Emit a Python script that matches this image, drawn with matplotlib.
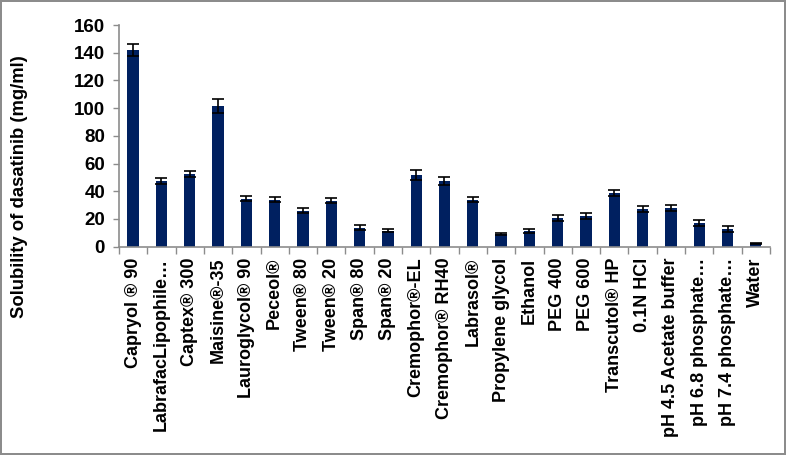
import numpy as np
import matplotlib.pyplot as plt

# Valori
categories = ["Capryol ® 90", "LabrafacLipophile…", "Captex® 300", "Maisine®-35",
              "Lauroglycol® 90", "Peceol®", "Tween® 80", "Tween® 20", "Span® 80",
              "Span® 20", "Cremophor®-EL", "Cremophor® RH40", "Labrasol®",
              "Propylene glycol", "Ethanol", "PEG 400", "PEG 600", "Transcutol® HP",
              "0.1N HCl", "pH 4.5 Acetate buffer", "pH 6.8 phosphate…",
              "pH 7.4 phosphate…", "Water"]
solubility = [142, 47.6, 52.6, 101.6, 34.6, 33.9, 26, 33.2, 13.7, 11.5, 51.9, 47.6,
              33.8, 8.9, 11.4, 20.8, 22.2, 38.9, 27.3, 28, 17.1, 12.8, 2.4]
errors = [4.4, 2.2, 2.3, 4.8, 1.7, 1.7, 1.7, 1.8, 1.9, 1.2, 3.6, 3, 1.8, 0.8, 1.6,
          2.2, 2.2, 2.3, 2.2, 2.3, 2.5, 2.3, 0.5]

plt.rcParams['font.family'] = ['Liberation Sans', 'DejaVu Sans']
plt.rcParams['font.weight'] = 'bold'

fig = plt.figure(figsize=(7.86, 4.55), dpi=100, linewidth=1.5, edgecolor='#8c8c8c')
ax = fig.add_axes([0.1514, 0.4578, 0.8282, 0.4872])

x = np.arange(len(categories))
ax.bar(x, solubility, width=0.4, color='#002060', zorder=2)
ax.errorbar(x, solubility, yerr=errors, fmt='none', ecolor='black',
            elinewidth=1.2, capsize=4.5, capthick=1.2, zorder=3)

ax.set_xlim(-0.5, len(categories) - 0.5)
ax.set_ylim(0, 160)
ax.set_yticks(np.arange(0, 161, 20))
ax.tick_params(axis='y', labelsize=13.5, length=4, color='#8c8c8c', width=1, pad=6)

ax.set_xticks(x)
ax.set_xticklabels(categories, rotation=90, fontsize=13, fontweight='bold')
ax.set_xticks(np.arange(-0.5, len(categories)), minor=True)
ax.tick_params(axis='x', which='major', length=0, pad=8)
ax.tick_params(axis='x', which='minor', length=5, color='#8c8c8c', width=1)

for s in ['top', 'right']:
    ax.spines[s].set_visible(False)
for s in ['left', 'bottom']:
    ax.spines[s].set_color('#8c8c8c')
    ax.spines[s].set_linewidth(1.2)

fig.text(0.025, 0.589, "Solubility of dasatinib (mg/ml)", rotation=90,
         fontsize=13.3, fontweight='bold', ha='center', va='center')

fig.savefig("out.png", dpi=100)
